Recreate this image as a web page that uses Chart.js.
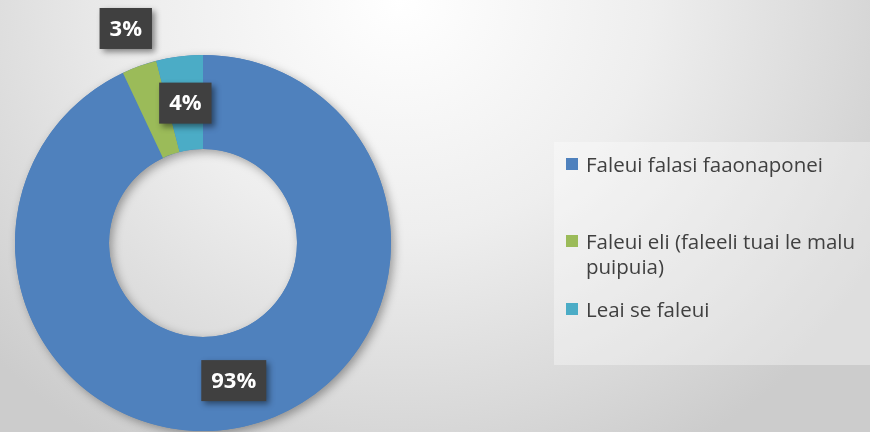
<!DOCTYPE html>
<html>
<head>
<meta charset="utf-8">
<script src="https://cdn.jsdelivr.net/npm/chart.js@4"></script>
<style>
  html, body { margin: 0; padding: 0; }
  body {
    width: 870px; height: 432px; overflow: hidden; position: relative;
    background: radial-gradient(ellipse 560px 520px at 400px 0px, #ffffff 0%, #eeeeee 45%, #d9d9d9 80%, #cccccc 100%);
    font-family: "Open Sans", sans-serif;
  }
  #wrap { position: absolute; left: 0; top: 0; width: 870px; height: 432px; }
  #legend {
    position: absolute; left: 554px; top: 142px; width: 316px; height: 223px;
    background: rgba(255,255,255,0.35);
  }
  .item { position: absolute; left: 12px; right: 0; color: #404040; font-size: 20.5px; line-height: 25px; white-space: normal; }
  .item .sw { position: absolute; left: 0; top: 6px; width: 12px; height: 12px; }
  .item .tx { margin-left: 20px; display: block; }
</style>
</head>
<body>
<div id="wrap"><canvas id="myChart" width="870" height="432"></canvas></div>
<div id="legend"></div>
<script>
const labels = ["Faleui falasi faaonaponei", "Faleui eli (faleeli tuai le malu puipuia)", "Leai se faleui"];
const values = [93, 3, 4];
const pctLabels = ["93%", "3%", "4%"];
const colors = ['#4f81bd', '#9bbb59', '#4bacc6'];

// legend (html, wraps like the original)
const legendTops = [10, 87, 155];
const legend = document.getElementById('legend');
labels.forEach((l, i) => {
    const d = document.createElement('div');
    d.className = 'item';
    d.style.top = legendTops[i] + 'px';
    d.innerHTML = '<span class="sw" style="background:' + colors[i] + '"></span><span class="tx">' + l + '</span>';
    legend.appendChild(d);
});

// ring shadow under the slices
const ringShadow = {
    id: 'ringShadow',
    beforeDatasetsDraw(chart) {
        const arc = chart.getDatasetMeta(0).data[0];
        if (!arc) return;
        const { x, y, outerRadius, innerRadius } = arc.getProps(['x', 'y', 'outerRadius', 'innerRadius'], true);
        const c = chart.ctx;
        c.save();
        c.shadowColor = 'rgba(0,0,0,0.35)';
        c.shadowBlur = 10;
        c.shadowOffsetX = 3;
        c.shadowOffsetY = 3;
        c.beginPath();
        c.arc(x, y, outerRadius, 0, Math.PI * 2);
        c.arc(x, y, innerRadius, 0, Math.PI * 2, true);
        c.fillStyle = colors[0];
        c.fill();
        c.restore();
    }
};

// dark boxed percent labels
const labelOut = [0, 40, 0];
const pctLabelsPlugin = {
    id: 'pctLabels',
    afterDatasetsDraw(chart) {
        const c = chart.ctx;
        chart.getDatasetMeta(0).data.forEach((arc, i) => {
            const p = arc.getProps(['x', 'y', 'startAngle', 'endAngle', 'outerRadius', 'innerRadius'], true);
            const mid = (p.startAngle + p.endAngle) / 2;
            const r = labelOut[i] ? p.outerRadius + labelOut[i] : (p.outerRadius + p.innerRadius) / 2;
            const lx = p.x + Math.cos(mid) * r;
            const ly = p.y + Math.sin(mid) * r;
            c.save();
            c.font = 'bold 22px "Open Sans", sans-serif';
            const w = c.measureText(pctLabels[i]).width + 20;
            const h = 41;
            c.shadowColor = 'rgba(0,0,0,0.45)';
            c.shadowBlur = 6;
            c.shadowOffsetX = 3;
            c.shadowOffsetY = 3;
            c.fillStyle = '#404040';
            c.fillRect(lx - w / 2, ly - h / 2, w, h);
            c.shadowColor = 'transparent';
            c.fillStyle = '#ffffff';
            c.textAlign = 'center';
            c.textBaseline = 'middle';
            c.fillText(pctLabels[i], lx, ly + 1);
            c.restore();
        });
    }
};

const ctx = document.getElementById('myChart').getContext('2d');
const myChart = new Chart(ctx, {
    type: 'doughnut',
    data: {
        labels: labels,
        datasets: [{
            data: values,
            backgroundColor: colors,
            borderWidth: 0
        }]
    },
    options: {
        responsive: false,
        animation: false,
        cutout: '50%',
        layout: { padding: { left: 15, top: 55, right: 479, bottom: 1 } },
        plugins: {
            legend: { display: false },
            tooltip: { enabled: false }
        }
    },
    plugins: [ringShadow, pctLabelsPlugin]
});
</script>
</body>
</html>
